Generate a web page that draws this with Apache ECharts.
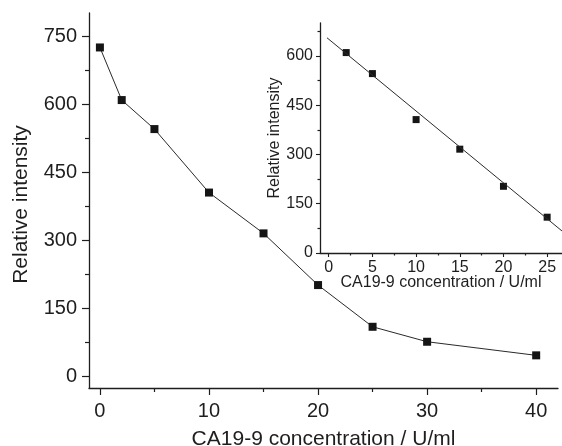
<!DOCTYPE html>
<html>
<head>
<meta charset="utf-8">
<script src="https://cdn.jsdelivr.net/npm/echarts@6/dist/echarts.min.js"></script>
<style>
  html, body { margin: 0; padding: 0; background: #fff; }
  #main { width: 562px; height: 446px; }
</style>
</head>
<body>
<div id="main"></div>
<script>
// main curve
var conc = [0, 2, 5, 10, 15, 20, 25, 30, 40];
var intensity = [726, 610, 546, 406, 316, 202, 110, 77, 47];

// inset (linear range)
var insetConc = [2, 5, 10, 15, 20, 25];
var insetIntensity = [610, 546, 406, 316, 203, 109];
var fitX = [-0.2, 26.7];
var fitY = [655, 67];

// tick labels
var mainXTicks = [0, 10, 20, 30, 40];
var mainXMinor = [5, 15, 25, 35];
var mainYTicks = [0, 150, 300, 450, 600, 750];
var mainYMinor = [75, 225, 375, 525, 675];
var insetXTicks = [0, 5, 10, 15, 20, 25];
var insetXMinor = [2.5, 7.5, 12.5, 17.5, 22.5];
var insetYTicks = [0, 150, 300, 450, 600];
var insetYMinor = [75, 225, 375, 525, 675];

var ink = '#1e1e1e';
var font = 'Liberation Sans, Arial, sans-serif';

var chart = echarts.init(document.getElementById('main'));

function axisBase(extra) {
  var a = {
    type: 'value',
    axisLine: { show: true, onZero: false, lineStyle: { color: ink, width: 1.3 } },
    splitLine: { show: false },
    nameLocation: 'middle',
    nameMoveOverlap: false
  };
  for (var k in extra) a[k] = extra[k];
  return a;
}

// minor-tick-only axis that overlays a real one
function minorAxis(extra, vals, len) {
  var a = {
    type: 'value',
    axisLine: { show: false, onZero: false },
    splitLine: { show: false },
    axisLabel: { show: false },
    axisTick: { show: true, length: len, customValues: vals, lineStyle: { color: ink, width: 1.2 } }
  };
  for (var k in extra) a[k] = extra[k];
  return a;
}

var option = {
  backgroundColor: '#fff',
  animation: false,
  textStyle: { fontFamily: font },
  grid: [
    { left: 89, top: 13, right: 4, bottom: 58, outerBoundsMode: 'none', containLabel: false },
    { left: 320, top: 23, right: 0, bottom: 193, outerBoundsMode: 'none', containLabel: false }
  ],
  xAxis: [
    axisBase({
      gridIndex: 0, min: -1, max: 42, position: 'bottom',
      name: 'CA19-9 concentration / U/ml', nameGap: 41,
      nameTextStyle: { fontSize: 21, color: ink, fontFamily: font },
      axisTick: { show: true, length: 7, customValues: mainXTicks, lineStyle: { color: ink, width: 1.2 } },
      axisLabel: { customValues: mainXTicks, fontSize: 20, color: ink, margin: 13, fontFamily: font }
    }),
    minorAxis({ gridIndex: 0, min: -1, max: 42, position: 'bottom' }, mainXMinor, 4),
    axisBase({
      gridIndex: 1, min: -1, max: 26.7, position: 'bottom',
      name: 'CA19-9 concentration / U/ml', nameGap: 22,
      nameTextStyle: { fontSize: 16, color: ink, fontFamily: font },
      axisTick: { show: true, length: 4, customValues: insetXTicks, lineStyle: { color: ink, width: 1.1 } },
      axisLabel: { customValues: insetXTicks, fontSize: 16, color: ink, margin: 7, fontFamily: font }
    }),
    minorAxis({ gridIndex: 1, min: -1, max: 26.7, position: 'bottom' }, insetXMinor, 2.5)
  ],
  yAxis: [
    axisBase({
      gridIndex: 0, min: -25, max: 802, position: 'left',
      name: 'Relative intensity', nameGap: 57,
      nameTextStyle: { fontSize: 21, color: ink, fontFamily: font, padding: [0, 8, 0, 0] },
      axisTick: { show: true, length: 7, customValues: mainYTicks, lineStyle: { color: ink, width: 1.2 } },
      axisLabel: { customValues: mainYTicks, fontSize: 20, color: ink, margin: 12, fontFamily: font }
    }),
    minorAxis({ gridIndex: 0, min: -25, max: 802, position: 'left' }, mainYMinor, 4),
    axisBase({
      gridIndex: 1, min: 0, max: 700, position: 'left',
      name: 'Relative intensity', nameGap: 37,
      nameTextStyle: { fontSize: 16, color: ink, fontFamily: font },
      axisTick: { show: true, length: 4, customValues: insetYTicks, lineStyle: { color: ink, width: 1.1 } },
      axisLabel: { customValues: insetYTicks, fontSize: 16, color: ink, margin: 7, fontFamily: font }
    }),
    minorAxis({ gridIndex: 1, min: 0, max: 700, position: 'left' }, insetYMinor, 2.5)
  ],
  series: [
    {
      name: 'main',
      type: 'line',
      xAxisIndex: 0, yAxisIndex: 0,
      data: conc.map(function (c, i) { return [c, intensity[i]]; }),
      symbol: 'rect', symbolSize: 8,
      lineStyle: { color: '#2a2a2a', width: 1 },
      itemStyle: { color: '#151515' }
    },
    {
      name: 'fit',
      type: 'line',
      xAxisIndex: 2, yAxisIndex: 2,
      data: fitX.map(function (c, i) { return [c, fitY[i]]; }),
      showSymbol: false, symbol: 'none',
      lineStyle: { color: '#2a2a2a', width: 1 }
    },
    {
      name: 'inset',
      type: 'scatter',
      xAxisIndex: 2, yAxisIndex: 2,
      data: insetConc.map(function (c, i) { return [c, insetIntensity[i]]; }),
      symbol: 'rect', symbolSize: 7,
      itemStyle: { color: '#151515', opacity: 1 }
    }
  ]
};

chart.setOption(option);
</script>
</body>
</html>
